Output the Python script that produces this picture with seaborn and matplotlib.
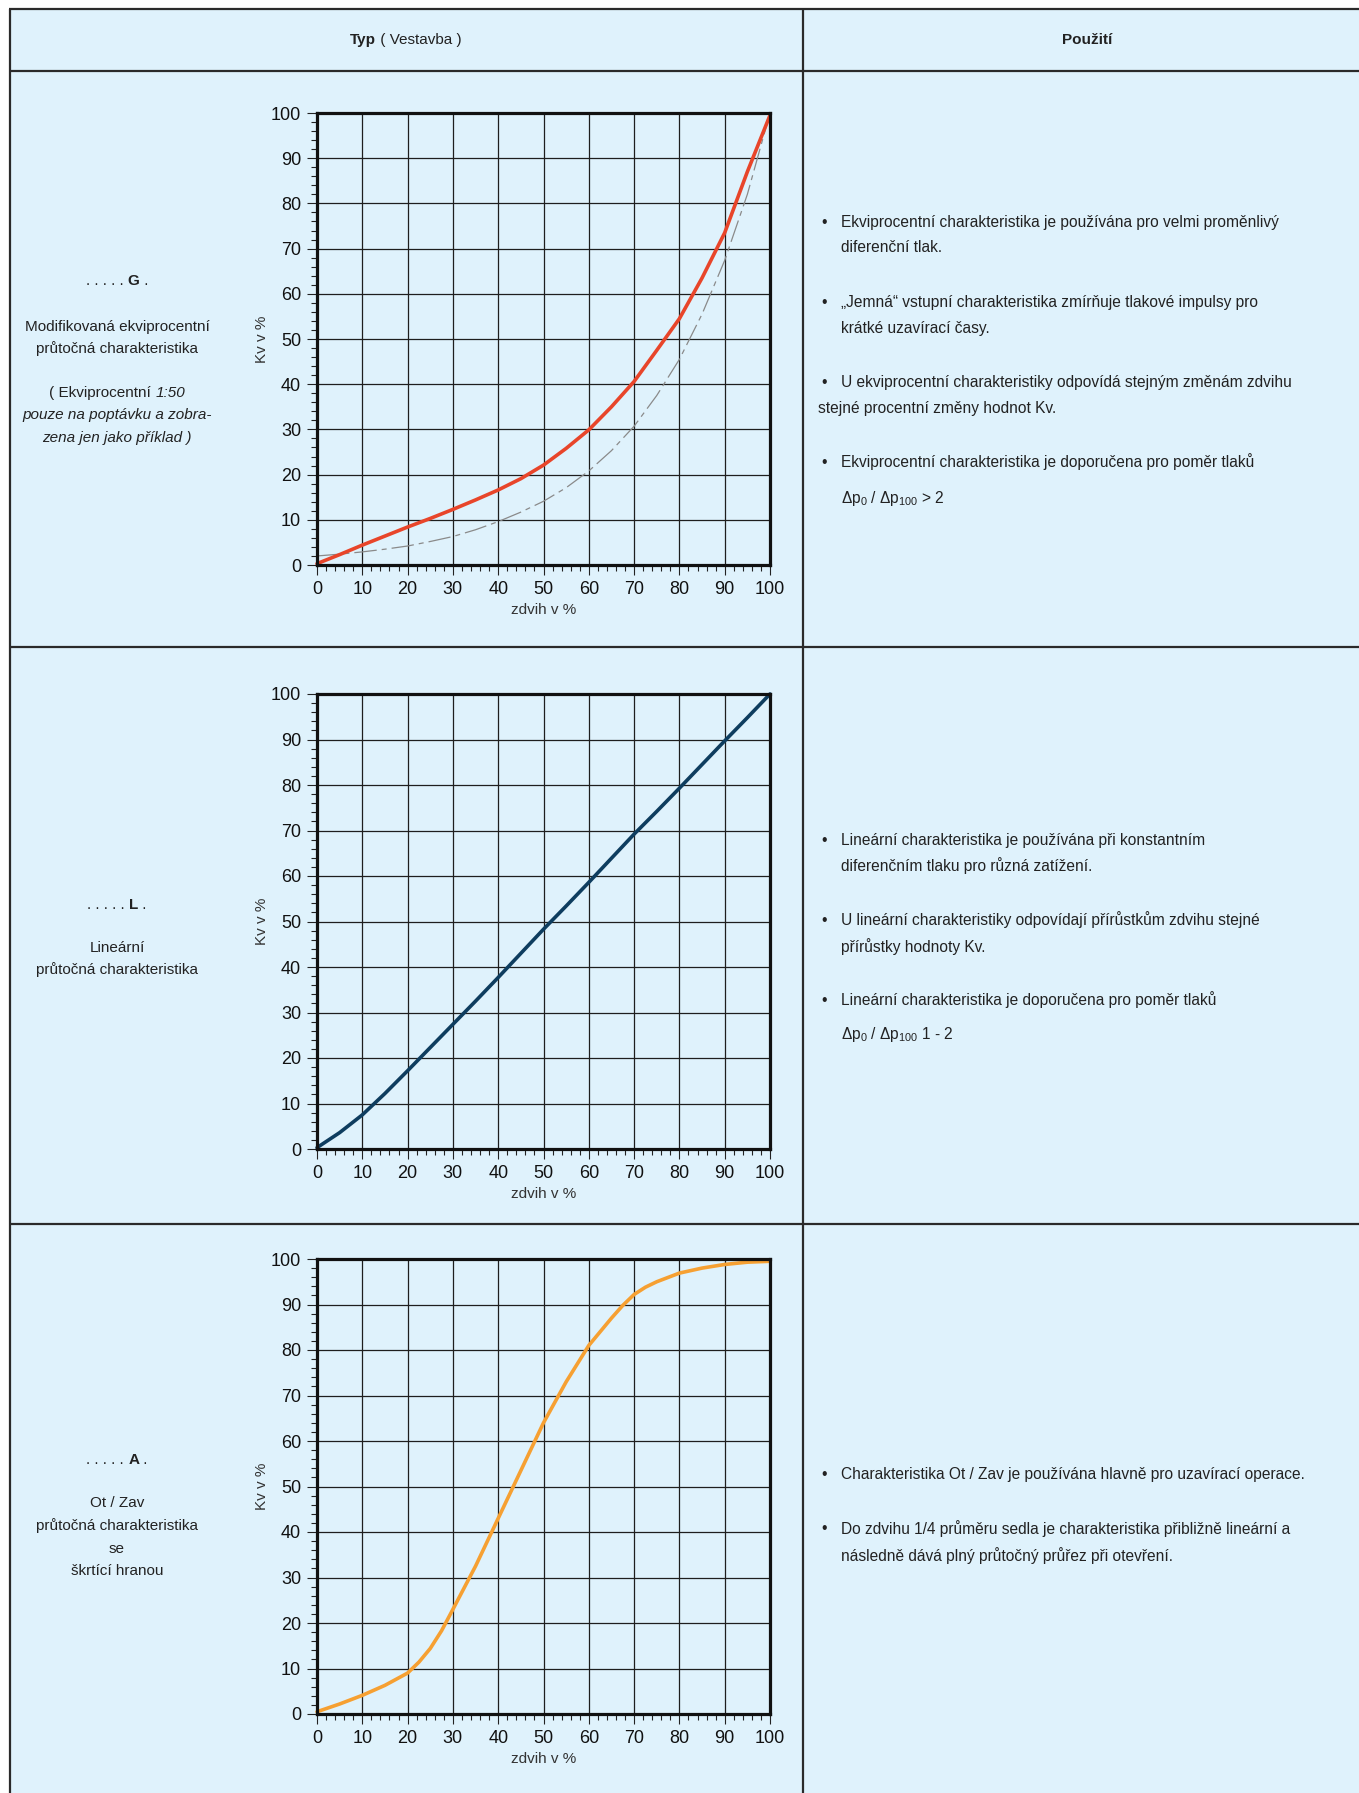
import matplotlib
matplotlib.use("Agg")
import matplotlib.pyplot as plt
import seaborn as sns
import pandas as pd
from matplotlib.ticker import MultipleLocator

# --- data (zdvih v %, Kv v %) ---
zdvih = [0, 5, 10, 15, 20, 25, 30, 35, 40, 45, 50, 55, 60, 65, 70, 75, 80, 85, 90, 95, 100]

kv_g = [0.3, 2.3, 4.4, 6.4, 8.4, 10.3, 12.3, 14.4, 16.6, 19.1, 22.1, 25.8, 29.9,
        35.0, 40.6, 47.5, 54.5, 63.5, 73.5, 87.0, 99.5]
kv_ekvi = [2.0, 2.4, 2.9, 3.5, 4.2, 5.2, 6.3, 7.8, 9.6, 11.7, 14.1, 17.1, 20.8,
           25.3, 30.7, 37.5, 45.5, 55.5, 67.4, 82.0, 100.0]
kv_l = [0.3, 3.6, 7.5, 12.2, 17.2, 22.3, 27.4, 32.5, 37.7, 43.0, 48.3, 53.4, 58.6,
        63.9, 69.2, 74.2, 79.3, 84.5, 89.7, 94.8, 100.0]

zdvih_a = [0, 5, 10, 15, 20, 22.5, 25, 27.5, 30, 35, 40, 45, 50, 55, 60, 65, 67.5,
           70, 72.5, 75, 80, 85, 90, 95, 100]
kv_a = [0.5, 2.2, 4.1, 6.3, 9.0, 11.4, 14.4, 18.3, 23.0, 32.5, 43.0, 53.5, 64.0,
        73.0, 81.0, 87.0, 89.8, 92.2, 93.8, 95.0, 96.9, 98.0, 98.8, 99.3, 99.5]

osa_x = [0, 10, 20, 30, 40, 50, 60, 70, 80, 90, 100]

hlavicka_typ = ["Typ", " ( Vestavba )"]
hlavicka_pouziti = "Použití"

typ_g = ["G", "Modifikovaná ekviprocentní", "průtočná charakteristika",
         "( Ekviprocentní ", "1:50", "pouze na poptávku a zobra-", "zena jen jako příklad )"]
typ_l = ["L", "Lineární", "průtočná charakteristika"]
typ_a = ["A", "Ot / Zav", "průtočná charakteristika", "se", "škrtící hranou"]

pouziti_g = [
    ("•", "Ekviprocentní charakteristika je používána pro velmi proměnlivý"),
    ("", "diferenční tlak."),
    ("•", "„Jemná“ vstupní charakteristika zmírňuje tlakové impulsy pro"),
    ("", "krátké uzavírací časy."),
    ("•", "U ekviprocentní charakteristiky odpovídá stejným změnám zdvihu"),
    ("<", "stejné procentní změny hodnot Kv."),
    ("•", "Ekviprocentní charakteristika je doporučena pro poměr tlaků"),
    ("", "Δp$_0$ / Δp$_{100}$ > 2"),
]
pouziti_l = [
    ("•", "Lineární charakteristika je používána při konstantním"),
    ("", "diferenčním tlaku pro různá zatížení."),
    ("•", "U lineární charakteristiky odpovídají přírůstkům zdvihu stejné"),
    ("", "přírůstky hodnoty Kv."),
    ("•", "Lineární charakteristika je doporučena pro poměr tlaků"),
    ("", "Δp$_0$ / Δp$_{100}$ 1 - 2"),
]
pouziti_a = [
    ("•", "Charakteristika Ot / Zav je používána hlavně pro uzavírací operace."),
    ("•", "Do zdvihu 1/4 průměru sedla je charakteristika přibližně lineární a"),
    ("", "následně dává plný průtočný průřez při otevření."),
]

# --- style ---
sns.set_style("ticks")
plt.rcParams["font.family"] = ["Liberation Sans", "DejaVu Sans"]
plt.rcParams["mathtext.fontset"] = "custom"
plt.rcParams["mathtext.rm"] = "Liberation Sans"
plt.rcParams["mathtext.it"] = "Liberation Sans:italic"
plt.rcParams["mathtext.bf"] = "Liberation Sans:bold"

W, H = 1359, 1793
BG = "#dff2fc"
LINE = "#2a2a2a"
TXT = "#222222"
FS = 11.2   # right column
FL = 11.0   # left column / header

fig = plt.figure(figsize=(W / 100, H / 100), dpi=100, facecolor="white")
renderer = fig.canvas.get_renderer()

# table background drawn in pixel coordinates
bg = fig.add_axes([0, 0, 1, 1], zorder=0)
bg.set_xlim(0, W)
bg.set_ylim(H, 0)
bg.axis("off")
bg.add_patch(plt.Rectangle((9, 9), W, H, facecolor=BG, edgecolor="none"))
for y in [9, 71, 647, 1224]:
    bg.plot([9, W], [y, y], color=LINE, lw=1.6, solid_capstyle="butt")
for x in [9.5, 803]:
    bg.plot([x, x], [9, H], color=LINE, lw=1.6, solid_capstyle="butt")


def skladba(x, y, kusy, fs=FL):
    """Centered line made of differently styled pieces."""
    texty = [bg.text(0, y, t, ha="left", va="center", fontsize=fs, color=TXT, **kw)
             for t, kw in kusy]
    sirky = [t.get_window_extent(renderer).width for t in texty]
    x0 = x - sum(sirky) / 2
    for t, w in zip(texty, sirky):
        t.set_x(x0)
        x0 += w


# header
skladba(406, 40, [(hlavicka_typ[0], {"fontweight": "bold"}), (hlavicka_typ[1], {})])
skladba(1087, 40, [(hlavicka_pouziti, {"fontweight": "bold"})])

# left column
CX = 117


def kod(y, pismeno):
    skladba(CX, y, [(". . . . . ", {}), (pismeno, {"fontweight": "bold"}), (" .", {})])


def radek(y, t, **kw):
    bg.text(CX, y, t, ha="center", va="center", fontsize=FL, color=TXT, **kw)


kod(281, typ_g[0])
radek(327, typ_g[1])
radek(349, typ_g[2])
skladba(CX, 393, [(typ_g[3], {}), (typ_g[4], {"style": "italic"})])
radek(415, typ_g[5], style="italic")
radek(438, typ_g[6], style="italic")

kod(905, typ_l[0])
radek(948, typ_l[1])
radek(970, typ_l[2])

kod(1460, typ_a[0])
for y, t in zip([1503, 1526, 1549, 1571], typ_a[1:]):
    radek(y, t)


# right column
def pouziti(radky, ys):
    for (b, t), y in zip(radky, ys):
        if b == "<":
            bg.text(818, y, t, ha="left", va="center", fontsize=FS, color=TXT)
            continue
        if b:
            bg.text(821, y, b, ha="left", va="center", fontsize=FS, color=TXT)
        bg.text(841, y, t, ha="left", va="center", fontsize=FS, color=TXT)


pouziti(pouziti_g, [222, 248, 303, 329, 382, 408, 462, 498])
pouziti(pouziti_l, [840, 866, 920, 947, 1000, 1034])
pouziti(pouziti_a, [1475, 1529, 1556])


# --- charts ---
def graf(top, bottom, krivky):
    ax = fig.add_axes([317 / W, 1 - bottom / H, (770 - 317) / W, (bottom - top) / H], zorder=2)
    ax.set_facecolor("none")
    for zd, kv, barva, lw, ls in krivky:
        df = pd.DataFrame({"zdvih": zd, "kv": kv})
        sns.lineplot(data=df, x="zdvih", y="kv", ax=ax, color=barva, linewidth=lw,
                     linestyle=ls, clip_on=False, zorder=3, solid_joinstyle="round")
    ax.set_xlim(0, 100)
    ax.set_ylim(0, 100)
    ax.set_xticks(osa_x)
    ax.set_yticks(osa_x)
    ax.xaxis.set_minor_locator(MultipleLocator(2))
    ax.yaxis.set_minor_locator(MultipleLocator(2))
    ax.grid(which="major", color="#1e1e1e", lw=0.9, zorder=1)
    ax.tick_params(which="major", direction="out", length=7.5, width=0.8, color="#222",
                   labelsize=13, pad=4, labelcolor="#111")
    ax.tick_params(which="minor", direction="out", length=4.5, width=0.8, color="#222")
    for s in ax.spines.values():
        s.set_linewidth(2.3)
        s.set_color("#111")
        s.set_zorder(4)
    ax.set_xlabel("zdvih v %", fontsize=FL, color="#333")
    ax.set_ylabel("Kv v %", fontsize=FL, color="#333")
    ax.xaxis.set_label_coords(0.5, -0.083)
    ax.yaxis.set_label_coords(-0.106, 0.5)
    return ax


graf(113, 565, [
    (zdvih, kv_ekvi, "#8a8a8a", 0.9, (0, (18, 4, 4, 4))),
    (zdvih, kv_g, "#e8452a", 2.6, "-"),
])
graf(694, 1149, [(zdvih, kv_l, "#0e3d5f", 2.6, "-")])
graf(1259, 1714, [(zdvih_a, kv_a, "#f6a032", 2.6, "-")])

fig.savefig("out.png", dpi=100, facecolor=fig.get_facecolor())
